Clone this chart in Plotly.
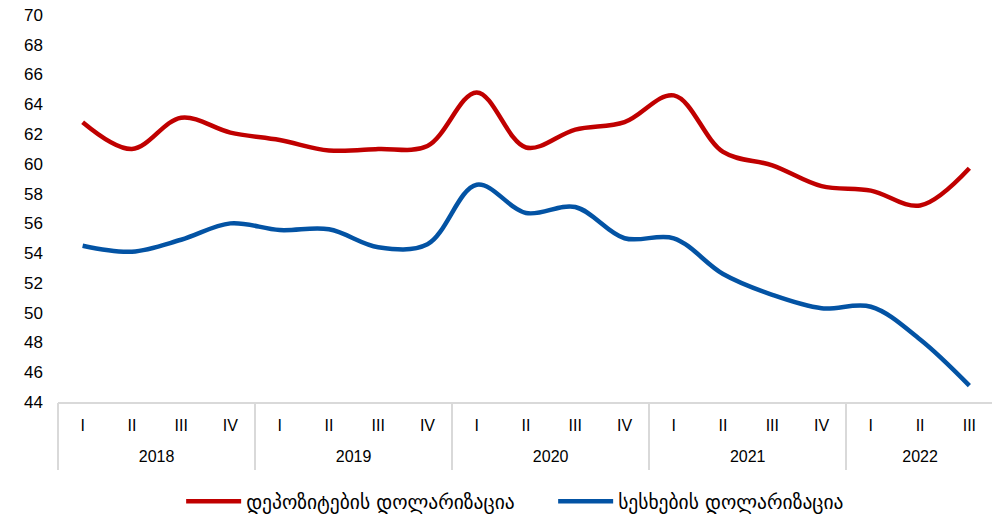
import plotly.graph_objects as go

years = ["2018"] * 4 + ["2019"] * 4 + ["2020"] * 4 + ["2021"] * 4 + ["2022"] * 3
quarters = ["I", "II", "III", "IV"] * 4 + ["I", "II", "III"]

deposits = [62.8, 61.0, 63.1, 62.1, 61.6, 60.9, 61.0, 61.2,
            64.8, 61.1, 62.3, 62.8, 64.6, 60.8, 59.9, 58.5,
            58.2, 57.2, 59.7]
loans = [54.5, 54.1, 54.9, 56.0, 55.55, 55.6, 54.4, 54.6,
         58.6, 56.7, 57.1, 55.0, 55.0, 52.6, 51.2, 50.3,
         50.4, 48.2, 45.1]

name_dep = "დეპოზიტების დოლარიზაცია"
name_loan = "სესხების დოლარიზაცია"

FONT = "Liberation Sans, Arial, DejaVu Sans, sans-serif"
GRID = "#D9D9D9"

idx = list(range(len(quarters)))
year_names = list(dict.fromkeys(years))
year_pos = [sum(i for i, y in zip(idx, years) if y == yn) / years.count(yn) for yn in year_names]
bounds = [-0.5] + [i + 0.5 for i in range(len(years) - 1) if years[i] != years[i + 1]] + [len(years) - 0.5]
xr = [-0.5, len(years) - 0.5]

fig = go.Figure()
fig.add_trace(go.Scatter(x=idx, y=deposits, name=name_dep, mode="lines",
                         line=dict(color="#C00000", width=4.5, shape="spline", smoothing=1)))
fig.add_trace(go.Scatter(x=idx, y=loans, name=name_loan, mode="lines",
                         line=dict(color="#0353A4", width=4.5, shape="spline", smoothing=1)))
# invisible helper traces so the year-label and divider axes are rendered
for ax in ("x2", "x3"):
    fig.add_trace(go.Scatter(x=idx, y=loans, xaxis=ax, mode="lines", showlegend=False,
                             hoverinfo="skip", line=dict(color="rgba(0,0,0,0)", width=0)))

fig.update_layout(
    width=992, height=507,
    margin=dict(l=50, r=6, t=7, b=113, autoexpand=False),
    plot_bgcolor="white", paper_bgcolor="white",
    font=dict(family=FONT, size=16, color="#000000"),
    showlegend=True,
    legend=dict(orientation="h", x=0.529, xanchor="center", y=-0.207, yanchor="top",
                font=dict(family="DejaVu Sans, Noto Sans, sans-serif", size=19.5),
                itemwidth=55, entrywidth=302, tracegroupgap=0),
    xaxis=dict(range=xr, tickmode="array", tickvals=idx, ticktext=quarters,
               automargin=False, showline=True, linecolor=GRID, linewidth=2,
               showgrid=False, zeroline=False, ticks="", ticklabelstandoff=8,
               tickfont=dict(size=16)),
    xaxis2=dict(range=xr, overlaying="x", anchor="y", side="bottom",
                tickmode="array", tickvals=year_pos, ticktext=year_names,
                automargin=False, showline=False, showgrid=False, zeroline=False,
                ticks="", ticklabelstandoff=43, tickfont=dict(size=16)),
    xaxis3=dict(range=xr, overlaying="x", anchor="y", side="bottom",
                tickmode="array", tickvals=bounds, showticklabels=False,
                automargin=False, showline=False, showgrid=False, zeroline=False,
                ticks="outside", ticklen=67, tickwidth=2, tickcolor=GRID),
    yaxis=dict(range=[44, 70], dtick=2, tick0=44, showgrid=False, zeroline=False,
               automargin=False, ticklabeloverflow="allow",
               showline=False, ticks="", ticklabelstandoff=14, tickfont=dict(size=17)),
)

fig.write_html("out.html")
